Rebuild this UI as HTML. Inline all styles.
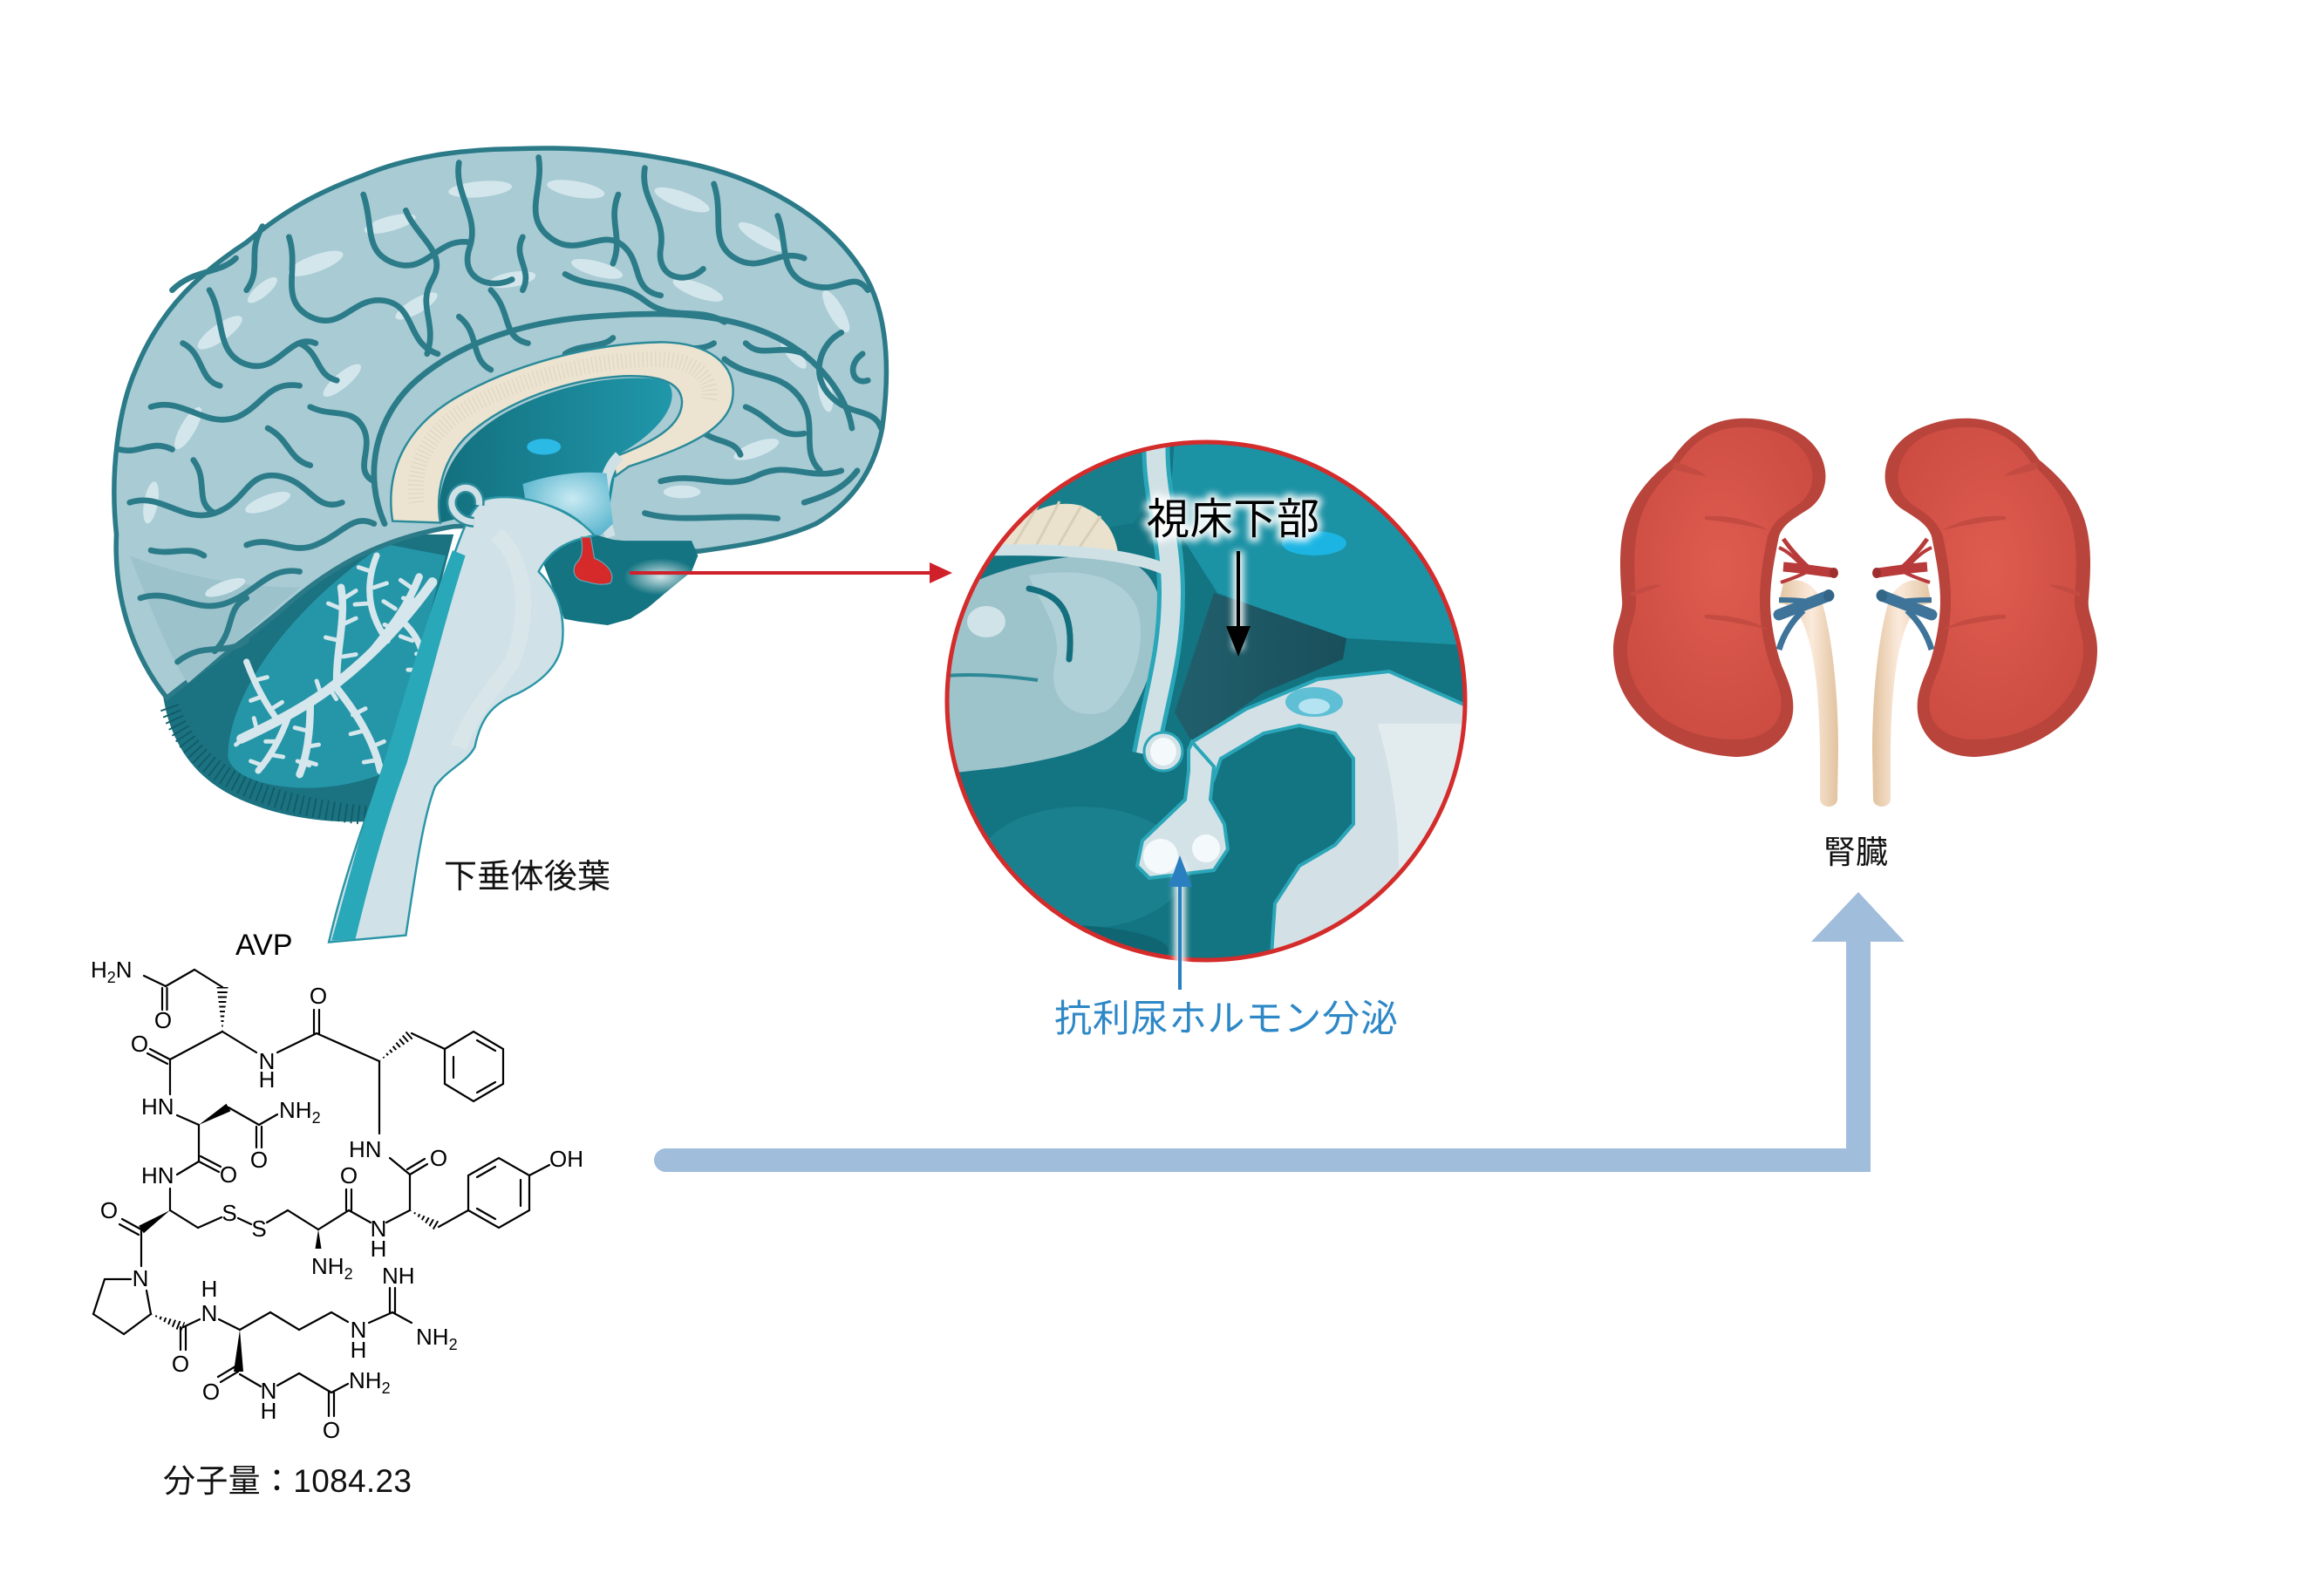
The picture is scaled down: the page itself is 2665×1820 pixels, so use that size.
<!DOCTYPE html>
<html><head><meta charset="utf-8">
<style>
html,body{margin:0;padding:0;background:#fff;}
body{width:2665px;height:1820px;position:relative;overflow:hidden;}
svg{position:absolute;left:0;top:0;}
</style></head>
<body>
<svg width="2665" height="1820" viewBox="0 0 2665 1820" xmlns="http://www.w3.org/2000/svg">
<defs>
  <clipPath id="cc"><circle cx="1383" cy="804" r="297"/></clipPath>
  <radialGradient id="kid" cx="0.5" cy="0.45" r="0.6">
    <stop offset="0" stop-color="#de5b4f"/><stop offset="1" stop-color="#cc4c42"/>
  </radialGradient>
  <linearGradient id="ure" x1="0" y1="0" x2="1" y2="0">
    <stop offset="0" stop-color="#e3c4a2"/><stop offset="0.55" stop-color="#fbeadb"/><stop offset="1" stop-color="#e2c29e"/>
  </linearGradient>
  <linearGradient id="thal" x1="0" y1="0" x2="1" y2="0">
    <stop offset="0" stop-color="#13707e"/><stop offset="1" stop-color="#2097aa"/>
  </linearGradient>
  <radialGradient id="midb" cx="0.55" cy="0.4" r="0.6">
    <stop offset="0" stop-color="#c9eaf3"/><stop offset="1" stop-color="#5db7cf"/>
  </radialGradient>
  <radialGradient id="glowg" cx="0.5" cy="0.5" r="0.5">
    <stop offset="0" stop-color="#ffffff" stop-opacity="0.8"/><stop offset="1" stop-color="#ffffff" stop-opacity="0"/>
  </radialGradient>
  <linearGradient id="tri" x1="0" y1="0" x2="1" y2="0">
    <stop offset="0" stop-color="#215f6c"/><stop offset="1" stop-color="#194f5b"/>
  </linearGradient>
  <filter id="blur" x="-30%" y="-30%" width="160%" height="160%"><feGaussianBlur stdDeviation="4"/></filter>
  <clipPath id="h1"><polygon points="255,1183 261.5,1132 248.5,1132"/></clipPath>
  <clipPath id="h2"><polygon points="435,1217 475.9,1189.5 468.1,1180.5"/></clipPath>
  <clipPath id="h3"><polygon points="470,1388 500,1412.2 506,1401.8"/></clipPath>
  <clipPath id="h4"><polygon points="173,1507 207.7,1527.6 212.3,1516.4"/></clipPath>
</defs>

<!-- ================= BRAIN ================= -->
<g transform="translate(100,150) scale(0.6090)">
  <!-- cerebellum -->
  <path d="M140,1040 C150,1150 200,1220 290,1260 C370,1295 460,1305 540,1300 L600,1100 L690,760 L560,760 C420,840 260,960 140,1040 Z" fill="#1b7280"/>
  <path d="M155,1085 C195,1200 300,1265 530,1290" stroke="#115c68" stroke-width="36" fill="none" stroke-dasharray="3 9"/>
  <path d="M265,1180 C265,1060 380,900 560,778 L675,800 L620,1000 L570,1205 C500,1235 420,1245 350,1232 C300,1222 272,1205 265,1180 Z" fill="#2596a8"/>
  <g stroke="#d5e7ec" stroke-linecap="round" fill="none">
    <path d="M650,850 C600,920 540,985 470,1040 C420,1080 360,1112 290,1145" stroke-width="18"/>
    <path d="M470,1040 C468,980 488,920 478,860" stroke-width="14"/>
    <path d="M520,1000 C560,950 600,905 625,840" stroke-width="14"/>
    <path d="M565,960 C525,905 525,850 545,800" stroke-width="12"/>
    <path d="M420,1080 C420,1140 412,1182 400,1212" stroke-width="14"/>
    <path d="M470,1050 C510,1100 540,1150 552,1205" stroke-width="14"/>
    <path d="M360,1112 C330,1072 312,1032 300,1000" stroke-width="12"/>
    <path d="M380,1100 C362,1150 342,1182 322,1205" stroke-width="12"/>
    <path d="M600,930 C630,960 640,1000 630,1040" stroke-width="12"/>
    <g stroke-width="8">
      <path d="M478,900 l-24,-10 M480,930 l26,-12 M475,960 l-26,-6 M484,880 l22,-14 M482,990 l24,-4"/>
      <path d="M580,900 l-22,-14 M595,880 l24,4 M560,930 l24,10 M610,860 l-20,-14"/>
      <path d="M535,830 l-24,-8 M540,860 l24,-8 M528,890 l-24,2"/>
      <path d="M415,1130 l-24,-6 M412,1160 l24,-4 M418,1195 l-22,-8 M405,1185 l26,8"/>
      <path d="M500,1100 l24,-12 M520,1130 l-24,6 M535,1160 l24,-10 M545,1185 l-24,4"/>
      <path d="M330,1065 l-22,8 M315,1035 l24,-6 M345,1090 l22,-14"/>
      <path d="M360,1150 l-24,0 M345,1175 l24,4 M330,1195 l-22,-8"/>
      <path d="M620,985 l24,2 M628,1015 l-24,0 M612,960 l-22,-8"/>
      <path d="M300,1140 l-20,16 M320,1130 l-6,-24 M440,1060 l-8,-24 M455,1048 l14,22"/>
    </g>
  </g>
  <!-- cerebrum -->
  <path d="M150,1068 C80,980 50,870 55,760 C42,640 60,520 92,448 C140,330 220,262 300,210 C380,142 450,110 520,84 C600,50 700,35 800,34 C900,30 1000,35 1100,55 C1250,80 1380,150 1450,250 C1510,330 1512,450 1497,560 C1482,640 1440,700 1372,740 C1302,772 1222,782 1150,792 C1050,780 950,770 870,762 C800,752 740,742 690,745 C540,770 450,830 380,890 C300,960 220,1010 150,1068 Z" fill="#a8cbd4" stroke="#2a7a88" stroke-width="9"/>
  <!-- shading -->
  <path d="M80,800 C120,900 160,1000 190,1040 C260,980 330,920 400,860 C300,860 180,840 80,800 Z" fill="#9cc2cc"/>
  <!-- highlights -->
  <g fill="#d3e6ec">
    <ellipse cx="250" cy="380" rx="50" ry="16" transform="rotate(-35 250 380)"/>
    <ellipse cx="430" cy="250" rx="55" ry="16" transform="rotate(-20 430 250)"/>
    <ellipse cx="570" cy="175" rx="50" ry="14" transform="rotate(-15 570 175)"/>
    <ellipse cx="740" cy="110" rx="60" ry="15" transform="rotate(-5 740 110)"/>
    <ellipse cx="920" cy="110" rx="55" ry="15" transform="rotate(10 920 110)"/>
    <ellipse cx="1120" cy="130" rx="55" ry="15" transform="rotate(20 1120 130)"/>
    <ellipse cx="1270" cy="200" rx="50" ry="14" transform="rotate(30 1270 200)"/>
    <ellipse cx="1410" cy="340" rx="45" ry="14" transform="rotate(60 1410 340)"/>
    <ellipse cx="1390" cy="490" rx="40" ry="13" transform="rotate(80 1390 490)"/>
    <ellipse cx="190" cy="560" rx="45" ry="14" transform="rotate(-60 190 560)"/>
    <ellipse cx="120" cy="700" rx="40" ry="13" transform="rotate(-80 120 700)"/>
    <ellipse cx="340" cy="700" rx="45" ry="14" transform="rotate(-20 340 700)"/>
    <ellipse cx="960" cy="260" rx="50" ry="14" transform="rotate(15 960 260)"/>
    <ellipse cx="800" cy="280" rx="45" ry="14" transform="rotate(-10 800 280)"/>
    <ellipse cx="1150" cy="300" rx="50" ry="14" transform="rotate(20 1150 300)"/>
    <ellipse cx="480" cy="470" rx="45" ry="14" transform="rotate(-40 480 470)"/>
    <ellipse cx="620" cy="330" rx="45" ry="14" transform="rotate(-30 620 330)"/>
    <ellipse cx="1260" cy="600" rx="45" ry="14" transform="rotate(-20 1260 600)"/>
    <ellipse cx="1120" cy="680" rx="35" ry="12"/>
    <ellipse cx="260" cy="860" rx="40" ry="12" transform="rotate(-20 260 860)"/>
    <ellipse cx="330" cy="300" rx="35" ry="12" transform="rotate(-40 330 300)"/>
    <ellipse cx="1330" cy="420" rx="35" ry="12" transform="rotate(50 1330 420)"/>
  </g>
  <!-- sulci -->
  <g stroke="#2b7b89" stroke-width="11" fill="none" stroke-linecap="round" stroke-linejoin="round">
    <path d="M560,740 C520,650 540,540 620,470 C700,400 820,360 950,350 C1080,340 1200,340 1300,390 C1380,430 1430,500 1440,560"/>
    <path d="M230,300 C260,350 240,420 300,440 C360,460 380,380 430,400"/>
    <path d="M120,520 C180,500 220,560 280,540 C330,520 340,470 400,480"/>
    <path d="M80,700 C140,680 180,740 240,720 C300,700 300,640 360,650 C420,660 430,720 480,700"/>
    <path d="M100,880 C160,860 200,910 260,890 C320,870 340,820 400,830"/>
    <path d="M170,1000 C220,960 260,990 300,960"/>
    <path d="M380,200 C400,260 360,320 420,350 C480,380 500,310 560,320 C620,330 600,400 660,420"/>
    <path d="M520,120 C540,180 520,230 580,250 C640,270 660,200 720,210"/>
    <path d="M700,60 C690,120 740,160 720,220 C700,280 760,300 800,280"/>
    <path d="M850,50 C860,110 820,160 870,200 C920,240 960,190 1000,210 C1050,240 1020,300 1080,310"/>
    <path d="M1050,70 C1040,130 1090,160 1080,220 C1070,280 1130,290 1160,260"/>
    <path d="M1180,100 C1200,160 1170,210 1220,240 C1270,270 1300,220 1350,240"/>
    <path d="M1300,160 C1320,210 1300,270 1360,290 C1420,310 1440,260 1470,300"/>
    <path d="M1420,380 C1380,400 1360,460 1400,500 C1440,540 1480,520 1495,560"/>
    <path d="M1200,430 C1250,470 1300,450 1340,500 C1380,550 1340,600 1380,640"/>
    <path d="M1080,660 C1150,640 1200,680 1260,650 C1320,620 1360,660 1420,640"/>
    <path d="M1050,720 C1120,740 1200,720 1300,730"/>
    <path d="M600,150 C620,200 680,230 650,280 C620,330 660,360 640,420"/>
    <path d="M300,780 C350,760 380,800 430,780 C480,760 500,720 540,740"/>
    <path d="M420,520 C460,540 500,520 520,560 C540,600 500,640 540,660"/>
    <path d="M180,400 C220,420 210,470 250,480"/>
    <path d="M900,270 C950,300 1000,280 1050,320 C1100,360 1150,330 1200,360"/>
    <path d="M760,300 C800,340 780,390 830,400"/>
    <path d="M340,560 C380,580 380,620 420,630"/>
    <path d="M330,180 C300,230 330,260 300,300"/>
    <path d="M1240,520 C1290,540 1300,580 1350,570"/>
    <path d="M1460,420 C1430,440 1440,480 1470,470"/>
    <path d="M200,620 C230,660 200,700 240,720"/>
    <path d="M120,790 C160,800 190,780 220,800"/>
    <path d="M1000,120 C980,170 1010,200 990,250"/>
    <path d="M1350,420 C1300,400 1270,430 1240,400"/>
    <path d="M240,980 C280,940 260,900 300,880"/>
    <path d="M700,350 C740,380 720,430 760,450"/>
    <path d="M1050,420 C1100,400 1150,420 1180,400"/>
    <path d="M160,300 C200,260 250,270 280,240"/>
    <path d="M60,600 C100,610 120,580 160,600"/>
    <path d="M400,400 C440,420 430,460 470,470"/>
    <path d="M820,200 C800,240 840,260 820,300"/>
    <path d="M1450,640 C1420,680 1380,690 1350,700"/>
    <path d="M1150,560 C1180,590 1220,580 1230,610"/>
    <path d="M900,420 C930,400 970,410 990,390"/>
  </g>
  <!-- inner thalamus area -->
  <path d="M665,738 C655,660 690,590 780,535 C880,478 1000,455 1090,470 C1120,500 1090,560 1000,610 L985,700 L940,740 L820,700 Z" fill="url(#thal)"/>
  <ellipse cx="860" cy="595" rx="32" ry="15" fill="#2bb9e6"/>
  <!-- corpus callosum -->
  <path d="M575,735 C560,640 600,560 690,505 C800,440 950,400 1080,398 C1170,398 1225,440 1215,505 C1205,565 1120,600 1020,632 L995,650 L990,615 C1070,585 1120,555 1120,510 C1118,470 1070,460 1010,462 C900,468 790,510 720,570 C670,615 655,680 665,738 Z" fill="#ece4d1" stroke="#2a8a99" stroke-width="4"/>
  <path d="M620,700 C610,620 650,560 720,520 C820,465 950,430 1080,430 C1150,432 1180,470 1170,510" stroke="#d6cdb8" stroke-width="30" fill="none" stroke-dasharray="2 6" opacity="0.6"/>
  <!-- fornix band -->
  <path d="M985,765 C965,700 968,645 1002,612" stroke="#cfe0e6" stroke-width="20" fill="none"/>
  <!-- midbrain light -->
  <path d="M820,665 C880,645 940,640 978,645 L990,740 L960,768 C930,725 880,700 825,695 Z" fill="url(#midb)"/>
  <!-- hypothalamus dark -->
  <path d="M849,788 L882,760 L936,755 L997,772 L1138,772 L1150,800 L1138,830 L1089,870 L1056,898 L1023,919 L980,931 L925,924 L898,919 Z" fill="#147482"/>
  <ellipse cx="1080" cy="840" rx="70" ry="35" fill="url(#glowg)"/>
  <!-- brainstem -->
  <path d="M750,694 C800,680 900,700 955,762 C900,772 870,792 850,830 C880,860 900,900 895,960 C890,1010 850,1040 810,1060 C760,1080 740,1110 730,1160 C715,1190 680,1200 655,1235 C630,1300 615,1420 600,1515 L455,1528 C480,1420 520,1300 560,1200 C600,1060 640,920 690,800 C705,760 720,710 750,694 Z" fill="#d0e1e7" stroke="#2a95a6" stroke-width="4"/>
  <path d="M688,790 C640,910 600,1060 555,1200 C520,1300 490,1420 460,1525 L505,1522 C532,1410 562,1300 602,1190 C640,1060 672,925 712,800 Z" fill="#28a8b9"/>
  <path d="M770,760 C820,800 840,900 800,1000 C760,1060 720,1100 700,1160" stroke="#dde9ed" stroke-width="30" fill="none" opacity="0.6"/>
  <!-- fornix ring -->
  <path d="M738,705 C742,670 700,660 688,690 C680,712 700,735 728,737" stroke="#2a8a99" stroke-width="20" fill="none"/>
  <path d="M738,705 C742,670 700,660 688,690 C680,712 700,735 728,737" stroke="#cfe0e6" stroke-width="12" fill="none"/>
  <!-- pituitary -->
  <path d="M930,765 L948,765 L955,805 C980,815 995,835 985,852 C965,858 945,850 935,848 C918,845 912,830 920,815 C930,805 935,795 930,765 Z" fill="#d62a2a" stroke="#5aa9b8" stroke-width="2"/>
</g>

<!-- red arrow -->
<line x1="722" y1="657" x2="1070" y2="657" stroke="#d0202a" stroke-width="4"/>
<polygon points="1066,645 1092,657 1066,669" fill="#d0202a"/>

<!-- ================= CIRCLE ================= -->
<g clip-path="url(#cc)">
  <rect x="1080" y="500" width="610" height="610" fill="#137482"/>
  <ellipse cx="1240" cy="995" rx="120" ry="70" fill="#1a808e"/>
  <ellipse cx="1200" cy="1090" rx="140" ry="30" fill="#0f6672"/>
  <polygon points="1080,500 1330,500 1326,560 1300,600 1240,610 1150,625 1080,650" fill="#187e8c"/>
  <polygon points="1347,500 1700,500 1700,741 1544,732 1449,699 1396,680 1375,647 1351,609 1343,561" fill="#1c92a5"/>
  <ellipse cx="1507" cy="623" rx="37" ry="14" fill="#1cb5e3"/>
  <!-- cream band -->
  <path d="M1138,634 C1160,595 1200,570 1240,580 C1262,590 1278,605 1282,634 Z" fill="#ebe2cd"/>
  <g stroke="#d9cfb8" stroke-width="3">
    <line x1="1160" y1="630" x2="1190" y2="580"/><line x1="1185" y1="632" x2="1215" y2="575"/>
    <line x1="1210" y1="632" x2="1240" y2="580"/><line x1="1235" y1="632" x2="1262" y2="592"/>
  </g>
  <!-- left gray region -->
  <path d="M1078,690 C1120,660 1170,645 1240,637 C1290,632 1322,650 1330,690 C1336,730 1320,780 1292,828 C1262,860 1210,870 1150,880 L1078,888 Z" fill="#9dc3cb"/>
  <path d="M1180,660 C1240,650 1290,660 1305,700 C1315,740 1300,790 1270,815 C1230,830 1200,800 1210,760 C1220,720 1190,690 1180,660 Z" fill="#b0d0d7"/>
  <ellipse cx="1131" cy="713" rx="22" ry="18" fill="#d0e3e8"/>
  <path d="M1180,675 C1215,682 1232,700 1226,756" stroke="#136f7e" stroke-width="7" fill="none" stroke-linecap="round"/>
  <path d="M1085,775 C1120,772 1160,776 1190,780" stroke="#2e8997" stroke-width="4" fill="none"/>
  <!-- light bands -->
  <path d="M1326,500 C1322,561 1343,609 1343,680 C1343,751 1326,798 1314,865" stroke="#29a6b8" stroke-width="32" fill="none"/>
  <path d="M1326,500 C1322,561 1343,609 1343,680 C1343,751 1326,798 1314,865" stroke="#d0e1e6" stroke-width="22" fill="none"/>
  <path d="M1090,632 C1203,628 1285,632 1334,652" stroke="#d0e1e6" stroke-width="13" fill="none"/>
  <!-- dark triangle -->
  <polygon points="1347,817 1392,680 1449,699 1544,732 1540,756 1449,794 1367,851" fill="url(#tri)"/>
  <!-- light lower right -->
  <path d="M1367,851 L1429,813 L1511,779 L1593,770 L1690,813 L1690,1110 L1457,1110 L1462,1036 L1490,993 L1531,969 L1552,945 L1552,870 L1531,841 L1490,832 L1449,841 L1400,870 L1392,893 Z" fill="#d3e1e6" stroke="#2aa6b8" stroke-width="4"/>
  <path d="M1580,830 C1600,900 1610,980 1600,1040 C1590,1080 1560,1100 1520,1110 L1690,1110 L1690,830 Z" fill="#e2ecef"/>
  <ellipse cx="1507" cy="805" rx="33" ry="17" fill="#5fbfd5"/>
  <ellipse cx="1507" cy="810" rx="18" ry="9" fill="#b4e3f2"/>
  <!-- stalk & bulbs -->
  <path d="M1363,860 L1363,884 L1359,917 L1334,941 L1310,964 L1304,993 L1318,1007 L1359,1002 L1392,998 L1408,974 L1404,945 L1388,917 L1392,879 L1367,851 Z" fill="#d3e2e7" stroke="#2aa6b8" stroke-width="4"/>
  <ellipse cx="1334" cy="862" rx="22" ry="22" fill="#d3e2e7" stroke="#2aa6b8" stroke-width="3"/>
  <ellipse cx="1334" cy="862" rx="15" ry="16" fill="#f4f9fb"/>
  <ellipse cx="1331" cy="982" rx="20" ry="20" fill="#f4f9fb"/>
  <ellipse cx="1383" cy="973" rx="16" ry="16" fill="#f4f9fb"/>
</g>
<circle cx="1383" cy="804" r="297" fill="none" stroke="#d42b2b" stroke-width="5"/>

<!-- circle arrows and labels with glow -->
<g filter="url(#blur)" stroke="#ffffff" fill="#ffffff" opacity="0.95">
  <text x="1315" y="612" font-family="'Liberation Sans','Noto Sans CJK JP',sans-serif" font-size="49" stroke-width="9" textLength="198">視床下部</text>
  <line x1="1420" y1="632" x2="1420" y2="745" stroke-width="12"/>
  <line x1="1353" y1="990" x2="1353" y2="1135" stroke-width="12"/>
</g>
<text x="1315" y="612" font-family="'Liberation Sans','Noto Sans CJK JP',sans-serif" font-size="49" fill="#000" textLength="198">視床下部</text>
<line x1="1420" y1="632" x2="1420" y2="722" stroke="#000" stroke-width="4"/>
<polygon points="1406,718 1420,753 1434,718" fill="#000"/>
<line x1="1353" y1="1013" x2="1353" y2="1135" stroke="#2a7fc0" stroke-width="4"/>
<polygon points="1340,1017 1353,981 1367,1017" fill="#2a7fc0"/>
<text x="1209" y="1183" font-family="'Liberation Sans','Noto Sans CJK JP',sans-serif" font-size="43" fill="#2e88c7" textLength="394">抗利尿ホルモン分泌</text>

<!-- brain label -->
<text x="509" y="1018" font-family="'Liberation Sans','Noto Sans CJK JP',sans-serif" font-size="38" fill="#111" textLength="191">下垂体後葉</text>

<!-- ================= KIDNEYS ================= -->
<g id="kL">
  <path d="M2045,668 C2065,660 2085,670 2092,700 C2102,740 2108,800 2108,860 L2107,916 C2107,928 2087,928 2087,916 L2087,860 C2086,800 2082,760 2073,730 C2066,705 2055,692 2040,692 Z" fill="url(#ure)"/>
  <path d="M2097,683 C2080,690 2060,697 2040,705" stroke="#3e7499" stroke-width="13" fill="none" stroke-linecap="round"/>
  <ellipse cx="2097" cy="683" rx="6" ry="7" fill="#336587"/>
  <path d="M2075,690 C2060,688 2050,688 2040,688" stroke="#3e7499" stroke-width="6" fill="none"/>
  <path d="M2068,700 C2055,712 2045,728 2040,745" stroke="#3e7499" stroke-width="7" fill="none"/>
  <path d="M2103,657 C2085,655 2070,652 2045,650" stroke="#b83a3a" stroke-width="11" fill="none"/>
  <ellipse cx="2103" cy="657" rx="5" ry="6" fill="#9e2f2f"/>
  <path d="M2075,652 C2062,640 2052,628 2045,618" stroke="#b83a3a" stroke-width="5" fill="none"/>
  <path d="M2068,650 C2058,640 2050,632 2040,628" stroke="#b83a3a" stroke-width="4" fill="none"/>
  <path d="M2070,657 C2060,662 2050,665 2042,668" stroke="#b83a3a" stroke-width="4" fill="none"/>
  <path d="M1993,480 C1960,482 1935,500 1917,527 C1895,545 1875,565 1865,595 C1855,625 1858,660 1860,687 C1862,705 1850,720 1850,745 C1850,775 1860,805 1893,833 C1920,855 1955,866 1990,868 C2025,868 2048,850 2055,823 C2060,800 2050,780 2043,763 C2035,740 2030,710 2030,690 C2030,665 2035,640 2040,615 C2045,600 2060,593 2075,583 C2090,572 2095,555 2093,540 C2090,515 2070,495 2040,486 C2025,481 2010,479 1993,480 Z" fill="#b9443b"/>
  <path d="M1993,490 C1962,492 1940,508 1925,532 C1905,550 1888,570 1880,598 C1872,628 1874,660 1876,687 C1877,705 1866,722 1866,745 C1866,772 1878,800 1905,822 C1930,840 1960,848 1990,848 C2020,848 2038,835 2042,815 C2045,795 2036,780 2030,763 C2022,740 2018,712 2018,690 C2018,662 2022,640 2027,615 C2033,598 2045,590 2060,580 C2075,570 2080,555 2078,540 C2074,518 2058,502 2035,495 C2020,491 2008,489 1993,490 Z" fill="url(#kid)"/>
  <g fill="#c44b41">
    <path d="M1920,530 C1935,533 1950,540 1957,546 C1945,545 1930,542 1918,537 Z"/>
    <path d="M1955,592 C1985,590 2010,598 2028,608 C2005,603 1980,598 1955,596 Z"/>
    <path d="M1870,680 C1885,672 1898,670 1905,671 C1895,676 1882,680 1870,684 Z"/>
    <path d="M1955,705 C1985,705 2010,712 2028,722 C2005,717 1980,712 1955,709 Z"/>
  </g>
</g>
<use href="#kL" transform="translate(4255,0) scale(-1,1)"/>
<text x="2091" y="990" font-family="'Liberation Sans','Noto Sans CJK JP',sans-serif" font-size="37" fill="#111" textLength="74">腎臓</text>

<!-- ================= BLUE ARROW ================= -->
<path d="M763.5,1317 L2117,1317 L2117,1080 L2077,1080 L2131,1023 L2184,1080 L2145,1080 L2145,1344 L763.5,1344 A13.5,13.5 0 0 1 763.5,1317 Z" fill="#a1bddc"/>

<!-- ================= CHEMICAL STRUCTURE ================= -->
<g stroke="#000" stroke-width="2.2" fill="none" stroke-linecap="round">
  <line x1="165" y1="1119" x2="190" y2="1131"/>
  <line x1="186" y1="1133" x2="186" y2="1158"/><line x1="191.5" y1="1133" x2="191.5" y2="1158"/>
  <line x1="190" y1="1131" x2="223" y2="1112"/>
  <line x1="223" y1="1112" x2="255" y2="1132"/>
  <line x1="255" y1="1183" x2="255" y2="1132" stroke-width="14" stroke-linecap="butt" stroke-dasharray="2 3.5" clip-path="url(#h1)"/>
  <line x1="255" y1="1183" x2="294" y2="1207"/>
  <line x1="318" y1="1207" x2="363" y2="1185"/>
  <line x1="360" y1="1185" x2="360" y2="1158"/><line x1="366" y1="1185" x2="366" y2="1158"/>
  <line x1="363" y1="1185" x2="435" y2="1217"/>
  <line x1="255" y1="1183" x2="195" y2="1215"/>
  <line x1="195" y1="1215" x2="172" y2="1203"/><line x1="192" y1="1220" x2="169" y2="1208"/>
  <line x1="195" y1="1215" x2="195" y2="1255"/>
  <line x1="203" y1="1279" x2="228" y2="1290"/>
  <line x1="262" y1="1270" x2="297" y2="1290"/>
  <line x1="297" y1="1290" x2="318" y2="1278"/>
  <line x1="294" y1="1292" x2="294" y2="1316"/><line x1="300" y1="1292" x2="300" y2="1316"/>
  <line x1="228" y1="1290" x2="228" y2="1332"/>
  <line x1="228" y1="1332" x2="251" y2="1344"/><line x1="230" y1="1326" x2="253" y2="1338"/>
  <line x1="228" y1="1332" x2="203" y2="1347"/>
  <line x1="195" y1="1363" x2="195" y2="1388"/>
  <line x1="162" y1="1410" x2="140" y2="1398"/><line x1="159" y1="1416" x2="137" y2="1404"/>
  <line x1="195" y1="1388" x2="227" y2="1408"/>
  <line x1="227" y1="1408" x2="254" y2="1396"/>
  <line x1="273" y1="1397" x2="288" y2="1404"/>
  <line x1="306" y1="1402" x2="330" y2="1388"/>
  <line x1="330" y1="1388" x2="365" y2="1410"/>
  <line x1="365" y1="1410" x2="400" y2="1388"/>
  <line x1="397" y1="1388" x2="397" y2="1364"/><line x1="403" y1="1388" x2="403" y2="1364"/>
  <line x1="400" y1="1388" x2="425" y2="1402"/>
  <line x1="443" y1="1402" x2="470" y2="1388"/>
  <line x1="470" y1="1388" x2="470" y2="1347"/>
  <line x1="470" y1="1347" x2="490" y2="1335"/><line x1="467" y1="1341" x2="487" y2="1329"/>
  <line x1="470" y1="1347" x2="447" y2="1328"/>
  <line x1="435" y1="1300" x2="435" y2="1217"/>
  <line x1="435" y1="1217" x2="472" y2="1185" stroke-width="14" stroke-linecap="butt" stroke-dasharray="2 3.5" clip-path="url(#h2)"/>
  <line x1="472" y1="1185" x2="510" y2="1203"/>
  <polygon points="510,1203 543,1183 577,1203 577,1243 543,1263 510,1243"/>
  <line x1="520" y1="1212" x2="520" y2="1236"/>
  <line x1="547" y1="1193" x2="568" y2="1205"/>
  <line x1="547" y1="1253" x2="568" y2="1241"/>
  <line x1="470" y1="1388" x2="503" y2="1407" stroke-width="14" stroke-linecap="butt" stroke-dasharray="2 3.5" clip-path="url(#h3)"/>
  <line x1="503" y1="1407" x2="537" y2="1388"/>
  <polygon points="537,1388 537,1348 572,1328 607,1348 607,1388 572,1408"/>
  <line x1="547" y1="1350" x2="568" y2="1338"/>
  <line x1="597" y1="1353" x2="597" y2="1383"/>
  <line x1="547" y1="1386" x2="568" y2="1398"/>
  <line x1="607" y1="1348" x2="630" y2="1336"/>
  <line x1="162" y1="1410" x2="162" y2="1452"/>
  <line x1="150" y1="1467" x2="120" y2="1467"/>
  <line x1="120" y1="1467" x2="107" y2="1507"/>
  <line x1="107" y1="1507" x2="142" y2="1530"/>
  <line x1="142" y1="1530" x2="173" y2="1507"/>
  <line x1="173" y1="1507" x2="168" y2="1480"/>
  <line x1="173" y1="1507" x2="210" y2="1522" stroke-width="14" stroke-linecap="butt" stroke-dasharray="2 3.5" clip-path="url(#h4)"/>
  <line x1="207" y1="1522" x2="207" y2="1548"/><line x1="213" y1="1522" x2="213" y2="1548"/>
  <line x1="210" y1="1522" x2="229" y2="1513"/>
  <line x1="251" y1="1513" x2="275" y2="1525"/>
  <line x1="275" y1="1525" x2="310" y2="1505"/>
  <line x1="310" y1="1505" x2="343" y2="1525"/>
  <line x1="343" y1="1525" x2="380" y2="1505"/>
  <line x1="380" y1="1505" x2="399" y2="1516"/>
  <line x1="423" y1="1517" x2="450" y2="1505"/>
  <line x1="447" y1="1505" x2="447" y2="1477"/><line x1="453" y1="1505" x2="453" y2="1477"/>
  <line x1="450" y1="1505" x2="472" y2="1517"/>
  <line x1="273" y1="1573" x2="253" y2="1585"/><line x1="270" y1="1567" x2="250" y2="1579"/>
  <line x1="275" y1="1576" x2="299" y2="1590"/>
  <line x1="318" y1="1589" x2="343" y2="1575"/>
  <line x1="343" y1="1575" x2="380" y2="1597"/>
  <line x1="377" y1="1597" x2="377" y2="1624"/><line x1="383" y1="1597" x2="383" y2="1624"/>
  <line x1="380" y1="1597" x2="399" y2="1587"/>
</g>
<g fill="#000">
  <polygon points="228,1290 264.5,1274.3 259.5,1265.7"/>
  <polygon points="195,1388 164.8,1414.2 159.2,1405.8"/>
  <polygon points="365,1410 368.5,1432 361.5,1432"/>
  <polygon points="275,1525 279,1573 268,1573"/>
</g>
<g font-family="'Liberation Sans',sans-serif" font-size="26" fill="#000">
  <text x="104" y="1121">H<tspan font-size="18" dy="6">2</tspan><tspan dy="-6">N</tspan></text>
  <text x="187" y="1179" text-anchor="middle">O</text>
  <text x="365" y="1151" text-anchor="middle">O</text>
  <text x="306" y="1226" text-anchor="middle">N</text>
  <text x="306" y="1247" text-anchor="middle">H</text>
  <text x="160" y="1206" text-anchor="middle">O</text>
  <text x="162" y="1278">HN</text>
  <text x="320" y="1282">NH<tspan font-size="18" dy="6">2</tspan></text>
  <text x="297" y="1339" text-anchor="middle">O</text>
  <text x="262" y="1356" text-anchor="middle">O</text>
  <text x="162" y="1357">HN</text>
  <text x="125" y="1397" text-anchor="middle">O</text>
  <text x="263" y="1400" text-anchor="middle">S</text>
  <text x="297" y="1418" text-anchor="middle">S</text>
  <text x="357" y="1461">NH<tspan font-size="18" dy="6">2</tspan></text>
  <text x="400" y="1357" text-anchor="middle">O</text>
  <text x="434" y="1418" text-anchor="middle">N</text>
  <text x="434" y="1441" text-anchor="middle">H</text>
  <text x="400" y="1327">HN</text>
  <text x="503" y="1337" text-anchor="middle">O</text>
  <text x="630" y="1338">OH</text>
  <text x="161" y="1475" text-anchor="middle">N</text>
  <text x="207" y="1573" text-anchor="middle">O</text>
  <text x="240" y="1487" text-anchor="middle">H</text>
  <text x="240" y="1515" text-anchor="middle">N</text>
  <text x="411" y="1534" text-anchor="middle">N</text>
  <text x="411" y="1557" text-anchor="middle">H</text>
  <text x="438" y="1472">NH</text>
  <text x="477" y="1542">NH<tspan font-size="18" dy="6">2</tspan></text>
  <text x="242" y="1605" text-anchor="middle">O</text>
  <text x="308" y="1604" text-anchor="middle">N</text>
  <text x="308" y="1627" text-anchor="middle">H</text>
  <text x="380" y="1649" text-anchor="middle">O</text>
  <text x="400" y="1592">NH<tspan font-size="18" dy="6">2</tspan></text>
</g>
<text x="270" y="1095" font-family="'Liberation Sans',sans-serif" font-size="34" fill="#000">AVP</text>
<text x="187" y="1711" font-family="'Liberation Sans','Noto Sans CJK JP',sans-serif" font-size="37" fill="#111" textLength="285">分子量：1084.23</text>
</svg>
</body></html>
